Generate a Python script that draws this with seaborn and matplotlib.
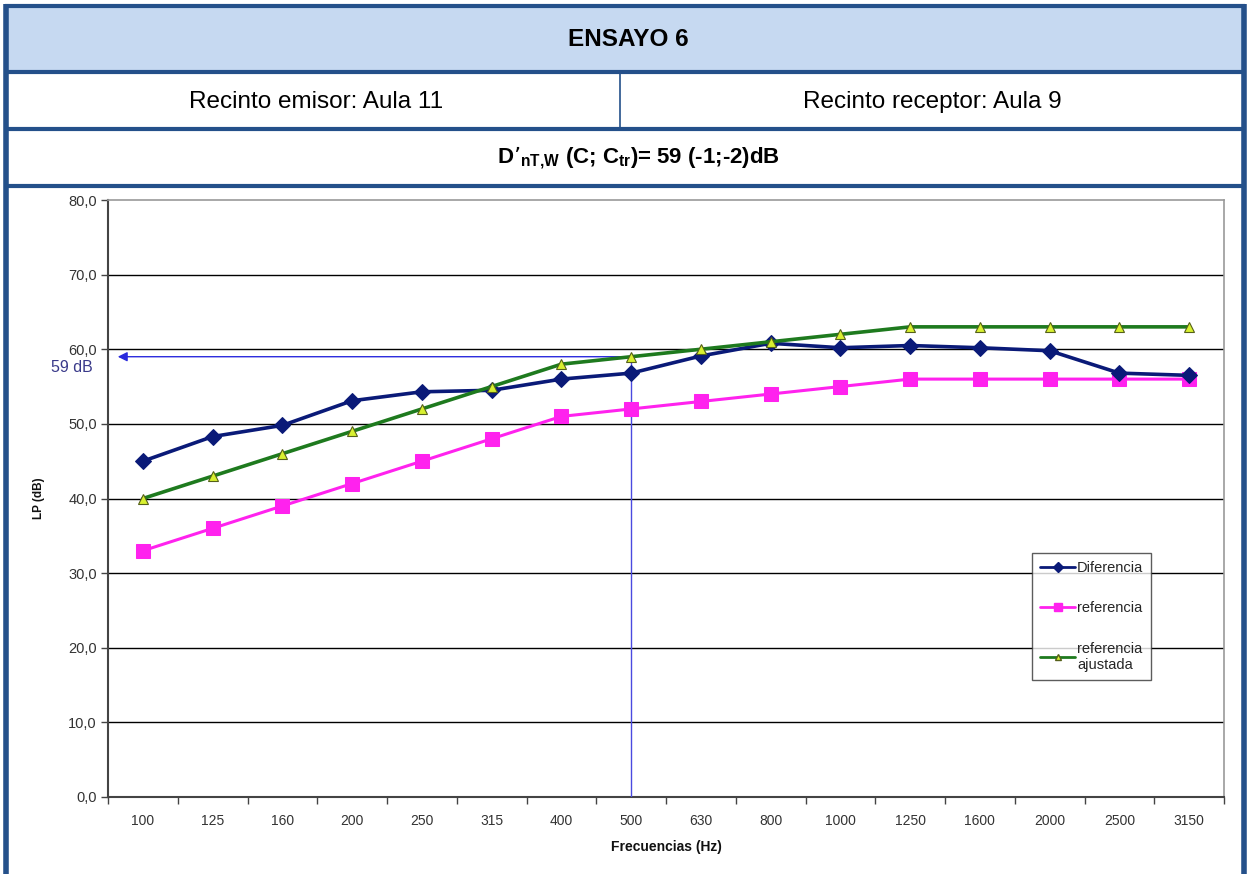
import numpy as np
import pandas as pd
import seaborn as sns
import matplotlib
matplotlib.use("Agg")
import matplotlib.pyplot as plt
from matplotlib.patches import Rectangle
from matplotlib.lines import Line2D
from matplotlib.ticker import FixedLocator, FuncFormatter

# Third-octave band centre frequencies (Hz)
frecuencias = ["100", "125", "160", "200", "250", "315", "400", "500",
               "630", "800", "1000", "1250", "1600", "2000", "2500", "3150"]
# Measured standardised level difference
diferencia = [45.0, 48.3, 49.8, 53.1, 54.3, 54.5, 56.0, 56.8,
              59.1, 60.8, 60.2, 60.5, 60.2, 59.8, 56.8, 56.5]
# ISO 717-1 reference curve
referencia = [33, 36, 39, 42, 45, 48, 51, 52, 53, 54, 55, 56, 56, 56, 56, 56]
# Reference curve shifted to the rated value
referencia_ajustada = [40, 43, 46, 49, 52, 55, 58, 59, 60, 61, 62, 63, 63, 63, 63, 63]
valor_global = 59
banda_global = "500"

titulo = "ENSAYO 6"
emisor = "Recinto emisor: Aula 11"
receptor = "Recinto receptor: Aula 9"

sns.set_theme(style="white")
plt.rcParams["font.family"] = ["Liberation Sans", "DejaVu Sans"]
plt.rcParams["mathtext.default"] = "regular"

W, H = 1249, 874
fig = plt.figure(figsize=(W / 100, H / 100), dpi=100)

# ---- table frame drawn in pixel coordinates ----
frame = fig.add_axes([0, 0, 1, 1], zorder=0)
frame.set_xlim(0, W)
frame.set_ylim(H, 0)
frame.axis("off")
border = "#24508A"
frame.add_patch(Rectangle((6, 6), 1237, 66, facecolor="#C6D9F1", edgecolor="none"))
for y in (5.5, 72, 129, 186):
    frame.plot([5, 1245], [y, y], color=border, lw=3, solid_capstyle="butt")
frame.plot([6, 6], [4, H], color=border, lw=4, solid_capstyle="butt")
frame.plot([1244, 1244], [4, H], color=border, lw=4, solid_capstyle="butt")
frame.plot([620, 620], [72, 129], color=border, lw=1.2)

frame.text(628, 40, titulo, ha="center", va="center", fontsize=17.5,
           fontweight="bold", color="black")
frame.text(316, 102, emisor, ha="center", va="center", fontsize=17.5,
           color="black")
frame.text(932, 102, receptor, ha="center", va="center", fontsize=17.5,
           color="black")
frame.text(638, 158,
           r"D’$_{nT{,}W}$ (C; C$_{tr}$)= 59 (-1;-2)dB",
           ha="center", va="center", fontsize=16, fontweight="bold",
           color="black")

# ---- chart ----
left, right, top, bottom = 108, 1224, 200, 797
ax = fig.add_axes([left / W, 1 - bottom / H, (right - left) / W, (bottom - top) / H], zorder=1)

pos = np.arange(len(frecuencias))
df = pd.DataFrame({"pos": pos, "Diferencia": diferencia,
                   "referencia": referencia, "ajustada": referencia_ajustada})

sns.lineplot(data=df, x="pos", y="Diferencia", ax=ax, color="#0A1A78", lw=2.6,
             marker="D", markersize=8, markeredgecolor="#0A1A78", zorder=5)
sns.lineplot(data=df, x="pos", y="referencia", ax=ax, color="#FF22EE", lw=2.2,
             marker="s", markersize=10, markeredgecolor="#FF22EE", zorder=4)
sns.lineplot(data=df, x="pos", y="ajustada", ax=ax, color="#1E7A1E", lw=2.6,
             marker="^", markersize=7, markerfacecolor="#D8F030",
             markeredgecolor="#55601A", markeredgewidth=0.8, zorder=6)

ax.set_xlim(-0.5, len(frecuencias) - 0.5)
ax.set_ylim(0, 80)

# horizontal grid
for v in range(10, 80, 10):
    ax.axhline(v, color="black", lw=1.0, zorder=1)

ax.yaxis.set_major_locator(FixedLocator(np.arange(0, 81, 10)))
ax.yaxis.set_major_formatter(FuncFormatter(lambda v, p: f"{v:.1f}".replace(".", ",")))
ax.xaxis.set_major_locator(FixedLocator(pos))
ax.set_xticklabels(frecuencias)
ax.xaxis.set_minor_locator(FixedLocator(np.arange(-0.5, len(frecuencias), 1.0)))
ax.tick_params(axis="x", which="major", length=0, pad=12, labelsize=10, colors="#333333")
ax.tick_params(axis="x", which="minor", length=5, width=1, color="#444444", direction="out")
ax.tick_params(axis="y", which="major", length=5, width=1, color="#444444",
               direction="out", labelsize=10.5, labelcolor="#333333", pad=3)
ax.tick_params(bottom=True, left=True, which="both")

for s in ("left", "bottom"):
    ax.spines[s].set_color("#444444")
    ax.spines[s].set_linewidth(1.5)
for s in ("top", "right"):
    ax.spines[s].set_color("#999999")
    ax.spines[s].set_linewidth(1.2)

ax.set_xlabel("Frecuencias (Hz)", fontsize=10, fontweight="bold", labelpad=9,
              color="#111111")
ax.set_ylabel("LP (dB)", fontsize=8.5, fontweight="bold", labelpad=17,
              color="#111111")

# rated value marker: vertical at 500 Hz, arrow to the level axis
i500 = frecuencias.index(banda_global)
ax.plot([i500, i500], [0, valor_global], color="#4A4AE0", lw=1.0, zorder=3)
ax.annotate("", xy=(-0.36, valor_global), xytext=(i500, valor_global),
            arrowprops=dict(arrowstyle="-|>", color="#2A2ADD", lw=1.0,
                            mutation_scale=14, shrinkA=0, shrinkB=0),
            zorder=3)
frame.text(93, 367, f"{valor_global} dB", ha="right", va="center",
           fontsize=11.5, color="#3A3A8A")

handles = [
    Line2D([], [], color="#0A1A78", lw=2, marker="D", markersize=5),
    Line2D([], [], color="#FF22EE", lw=2, marker="s", markersize=6),
    Line2D([], [], color="#1E7A1E", lw=2, marker="^", markersize=5,
           markerfacecolor="#D8F030", markeredgecolor="#55601A"),
]
leg = ax.legend(handles, ["Diferencia", "referencia", "referencia\najustada"],
                loc="upper left",
                bbox_to_anchor=((1032 - left) / (right - left), 1 - (553 - top) / (bottom - top)),
                frameon=True, fancybox=False, edgecolor="#333333", fontsize=10.5,
                handlelength=2.4, handletextpad=0.15, labelspacing=1.8,
                borderpad=0.55, borderaxespad=0)
leg.get_frame().set_linewidth(1.0)
leg.set_zorder(10)

fig.savefig("out.png", dpi=100)
